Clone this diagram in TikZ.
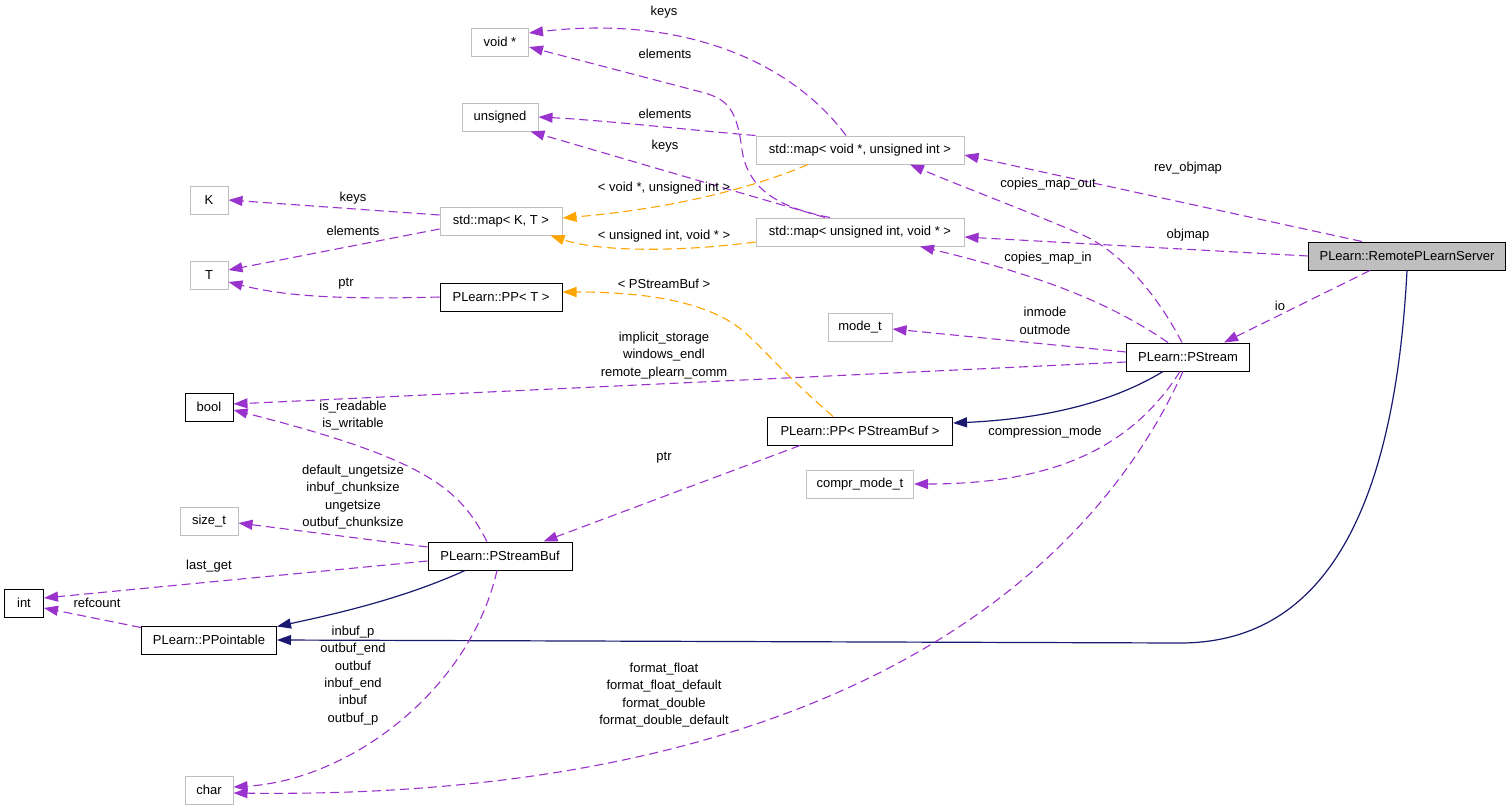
\documentclass[tikz,border=0pt]{standalone}
\usepackage{fontspec}
\setmainfont{Liberation Sans}
\usetikzlibrary{arrows.meta,calc}
\definecolor{purp}{HTML}{9A32CD}
\definecolor{orng}{HTML}{FFA500}
\definecolor{navyc}{HTML}{191970}
\definecolor{gborder}{HTML}{BFBFBF}
\begin{document}
\begin{tikzpicture}[x=1pt,y=-1pt,
  box/.style={draw=black, line width=1pt, minimum height=28pt, inner sep=0pt, font=\fontsize{13}{16}\selectfont, text=black},
  gbox/.style={box, draw=gborder},
  pe/.style={draw=purp, line width=1.1pt, dash pattern=on 9pt off 5pt, -{Triangle[length=14pt,width=10pt]}},
  oe/.style={draw=orng, line width=1.1pt, dash pattern=on 9pt off 5pt, -{Triangle[length=14pt,width=10pt]}},
  ne/.style={draw=navyc, line width=1.2pt, -{Triangle[length=14pt,width=10pt]}},
  lab/.style={font=\fontsize{13}{17.4}\selectfont, align=center, inner sep=0pt, text=black}]
\fill[white] (0,0) rectangle (1512,811);
\useasboundingbox (0,0) rectangle (1512,811);
% nodes
\node[gbox, minimum width=57pt] (voidp) at (500,42) {void *};
\node[gbox, minimum width=76pt] (unsig) at (500,117) {unsigned};
\node[gbox, minimum width=38pt] (K) at (209,200) {K};
\node[gbox, minimum width=38pt] (T) at (209,275) {T};
\node[gbox, minimum width=122pt] (mapKT) at (501,221) {std::map< K, T >};
\node[box, minimum width=122pt] (ppT) at (501,297) {PLearn::PP< T >};
\node[gbox, minimum width=208pt] (mapVU) at (860,150) {std::map< void *, unsigned int >};
\node[gbox, minimum width=208pt] (mapUV) at (860,232) {std::map< unsigned int, void * >};
\node[box, fill=gborder, minimum width=197pt] (rps) at (1407,256) {PLearn::RemotePLearnServer};
\node[gbox, minimum width=64pt] (modet) at (860,327) {mode\_t};
\node[box, minimum width=123pt] (pstream) at (1188,357) {PLearn::PStream};
\node[box, minimum width=48pt] (bool) at (209,407) {bool};
\node[box, minimum width=185pt] (ppbuf) at (860,431) {PLearn::PP< PStreamBuf >};
\node[gbox, minimum width=107pt] (compr) at (860,484) {compr\_mode\_t};
\node[gbox, minimum width=58pt] (sizet) at (209,521) {size\_t};
\node[box, minimum width=144pt] (psbuf) at (500,556) {PLearn::PStreamBuf};
\node[box, minimum width=39pt] (int) at (24,603) {int};
\node[box, minimum width=135pt] (ppoint) at (209,640) {PLearn::PPointable};
\node[gbox, minimum width=48pt] (char) at (209,790) {char};
% edges
\draw[pe] ($(mapVU.north)+(-14,0)$) .. controls (790,60) and (680,15) .. ($(voidp.east)+(0,-9)$);
\draw[pe] ($(mapUV.north)+(-30,0)$) .. controls (780,208) and (748,190) .. (742,150) .. controls (737,110) and (728,100) .. (705,93) -- ($(voidp.east)+(0,5)$);
\draw[pe] (mapVU.north west) .. controls (690,130) and (600,120) .. (unsig.east);
\draw[pe] ($(mapUV.north)+(-35,0)$) -- ($(unsig.south east)+(-8,0)$);
\draw[oe] ($(mapVU.south)+(-52,0)$) .. controls (760,185) and (680,208) .. ($(mapKT.east)+(0,-3)$);
\draw[oe] ($(mapUV.west)+(0,10)$) .. controls (680,252) and (600,252) .. ($(mapKT.south east)+(-12,0)$);
\draw[pe] ($(mapKT.west)+(0,-6)$) -- (K.east);
\draw[pe] ($(mapKT.west)+(0,8)$) -- ($(T.east)+(0,-5)$);
\draw[pe] (ppT.west) .. controls (330,300) and (280,295) .. ($(T.east)+(0,7)$);
\draw[oe] ($(ppbuf.north)+(-27,0)$) .. controls (780,370) and (760,345) .. (742,330) .. controls (705,300) and (640,292) .. ($(ppT.east)+(0,-5)$);
\draw[pe] ($(rps.north)+(-45,0)$) -- ($(mapVU.east)+(0,5)$);
\draw[pe] (rps.west) -- ($(mapUV.east)+(0,5)$);
\draw[pe] ($(rps.south)+(-37,0)$) -- ($(pstream.north east)+(-26,0)$);
\draw[ne] (rps.south) .. controls (1395,500) and (1330,643) .. (1180,643) -- (ppoint.east);
\draw[pe] ($(pstream.north)+(-6,0)$) .. controls (1160,300) and (1125,255) .. (1085,236) .. controls (1030,212) and (960,186) .. ($(mapVU.south)+(50,0)$);
\draw[pe] ($(pstream.north)+(-20,0)$) .. controls (1120,310) and (1060,280) .. ($(mapUV.south)+(60,0)$);
\draw[pe] ($(pstream.west)+(0,-5)$) -- ($(modet.east)+(0,2)$);
\draw[pe] ($(pstream.west)+(0,5)$) -- ($(bool.east)+(0,-3)$);
\draw[ne] ($(pstream.south)+(-25,0)$) .. controls (1100,410) and (1020,420) .. ($(ppbuf.east)+(0,-8)$);
\draw[pe] ($(pstream.south)+(-8,0)$) .. controls (1130,450) and (1050,484) .. (compr.east);
\draw[pe] ($(pstream.south)+(-5,0)$) .. controls (1080,600) and (800,800) .. ($(char.east)+(0,3)$);
\draw[pe] ($(ppbuf.south)+(-60,0)$) -- ($(psbuf.north east)+(-29,0)$);
\draw[pe] ($(psbuf.north)+(-13,0)$) .. controls (460,490) and (430,460) .. ($(bool.east)+(0,3)$);
\draw[pe] ($(psbuf.west)+(0,-9)$) -- ($(sizet.east)+(0,2)$);
\draw[pe] ($(psbuf.west)+(0,5)$) -- ($(int.east)+(0,-5)$);
\draw[ne] ($(psbuf.south)+(-35,0)$) .. controls (400,600) and (330,615) .. ($(ppoint.north east)+(0,1)$);
\draw[pe] ($(ppoint.north west)+(0,2)$) -- ($(int.east)+(0,5)$);
\draw[pe] ($(psbuf.south)+(-3,0)$) .. controls (470,690) and (350,780) .. ($(char.east)+(0,-3)$);
% labels
\node[lab] (l1) at (664,12) {keys};
\node[lab] (l2) at (665,54) {elements};
\node[lab] (l3) at (665,114) {elements};
\node[lab] (l4) at (665,146) {keys};
\node[lab] (l5) at (664,188) {< void *, unsigned int >};
\node[lab] (l6) at (664,236) {< unsigned int, void * >};
\node[lab] (l7) at (353,198) {keys};
\node[lab] (l8) at (353,231) {elements};
\node[lab] (l9) at (346,284) {ptr};
\node[lab] (l10) at (664,284) {< PStreamBuf >};
\node[lab] (l11) at (1188,168) {rev\_objmap};
\node[lab] (l12) at (1188,235) {objmap};
\node[lab] (l13) at (1280,306) {io};
\node[lab] (l14) at (1048,184) {copies\_map\_out};
\node[lab] (l15) at (1048,258) {copies\_map\_in};
\node[lab] (l16) at (1045,321) {inmode\\outmode};
\node[lab] (l17) at (664,355.5) {implicit\_storage\\windows\_endl\\remote\_plearn\_comm};
\node[lab] (l18) at (1045,432) {compression\_mode};
\node[lab] (l19) at (664,458) {ptr};
\node[lab] (l20) at (353,415.5) {is\_readable\\is\_writable};
\node[lab] (l21) at (353,497) {default\_ungetsize\\inbuf\_chunksize\\ungetsize\\outbuf\_chunksize};
\node[lab] (l22) at (209,566) {last\_get};
\node[lab] (l23) at (97,603) {refcount};
\node[lab] (l24) at (353,675.5) {inbuf\_p\\outbuf\_end\\outbuf\\inbuf\_end\\inbuf\\outbuf\_p};
\node[lab] (l25) at (664,695) {format\_float\\format\_float\_default\\format\_double\\format\_double\_default};
\end{tikzpicture}
\end{document}
